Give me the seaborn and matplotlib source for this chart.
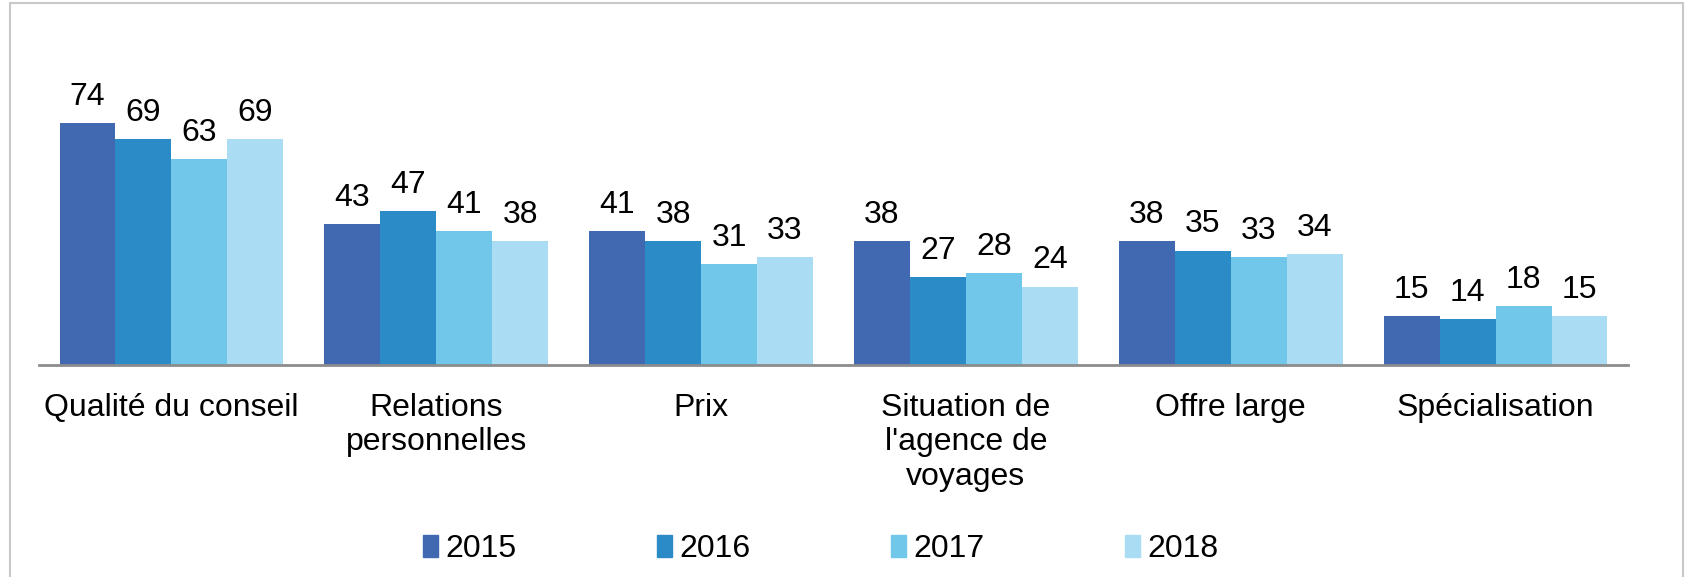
import matplotlib
matplotlib.use("Agg")
import matplotlib.pyplot as plt
import numpy as np
import pandas as pd
import seaborn as sns
from matplotlib.lines import Line2D

categories = [
    "Qualité du conseil",
    "Relations\npersonnelles",
    "Prix",
    "Situation de\nl'agence de\nvoyages",
    "Offre large",
    "Spécialisation",
]
years = ["2015", "2016", "2017", "2018"]
values_2015 = [74, 43, 41, 38, 38, 15]
values_2016 = [69, 47, 38, 27, 35, 14]
values_2017 = [63, 41, 31, 28, 33, 18]
values_2018 = [69, 38, 33, 24, 34, 15]
colors = ["#4169b1", "#2b8bc7", "#70c7ea", "#aaddf3"]

rows = []
for year, vals in zip(years, [values_2015, values_2016, values_2017, values_2018]):
    for cat, v in zip(categories, vals):
        rows.append({"cat": cat, "year": year, "value": v})
df = pd.DataFrame(rows)

sns.set_style("white")
plt.rcParams["font.family"] = ["Liberation Sans", "DejaVu Sans"]
plt.rcParams["text.color"] = "black"
plt.rcParams["xtick.color"] = "black"

fig = plt.figure(figsize=(16.86, 5.77), dpi=100)
ax = fig.add_axes([39 / 1686, 212 / 577, (1628 - 39) / 1686, 0.4534])

sns.barplot(data=df, x="cat", y="value", hue="year", palette=colors,
            width=0.845, saturation=1, gap=0, ax=ax, legend=False,
            linewidth=0, errorbar=None)

for cont in ax.containers:
    ax.bar_label(cont, fmt="%d", padding=8, fontsize=23, color="black")

ax.set_ylim(0, 80)
ax.set_xlim(-0.5, len(categories) - 0.5)
ax.set_xlabel("")
ax.set_ylabel("")
ax.set_yticks([])
for s in ["top", "right", "left"]:
    ax.spines[s].set_visible(False)
ax.spines["bottom"].set_color("#8c8c8c")
ax.spines["bottom"].set_linewidth(2)
ax.tick_params(axis="x", length=0, pad=20, labelsize=23, labelcolor="black")
for lbl in ax.get_xticklabels():
    lbl.set_linespacing(1.2)
    lbl.set_verticalalignment("top")

handles = [plt.Rectangle((0, 0), 1, 1, color=c) for c in colors]
fig.legend(handles, years, loc="center", bbox_to_anchor=(0.487, 0.048),
           ncol=4, frameon=False, fontsize=23, handlelength=0.45,
           handleheight=0.7, handletextpad=0.25, columnspacing=4.4)

# light frame around the chart area
for xs, ys in [([10 / 1686, 10 / 1686], [0, 1 - 3 / 577]),
               ([10 / 1686, 1683 / 1686], [1 - 3 / 577, 1 - 3 / 577]),
               ([1683 / 1686, 1683 / 1686], [0, 1 - 3 / 577])]:
    fig.add_artist(Line2D(xs, ys, color="#c8c8c8", linewidth=1.5,
                          transform=fig.transFigure))

fig.savefig("out.png", dpi=100)
